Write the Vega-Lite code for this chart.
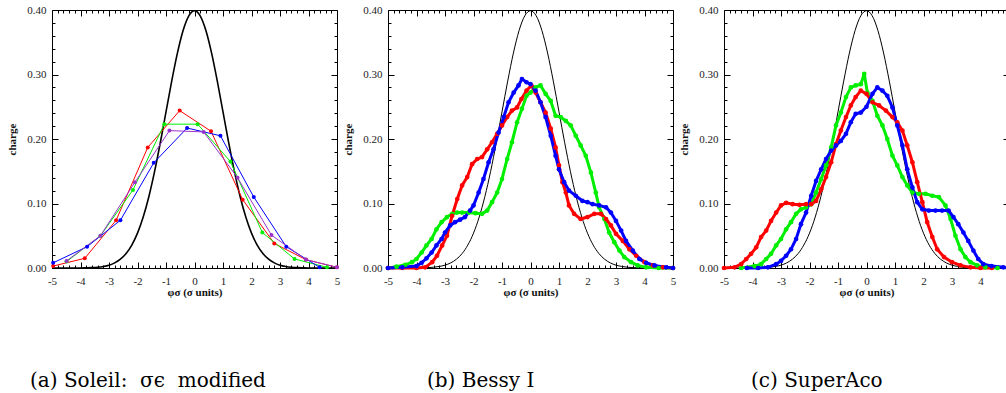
{
  "$schema": "https://vega.github.io/schema/vega-lite/v6.json",
  "padding": {"left": 6, "top": 4, "right": 0, "bottom": 0},
  "background": "white",
  "spacing": 51,
  "bounds": "flush",
  "datasets": {
    "gauss": [
      {"x":-5,"y":0},{"x":-4.8,"y":0},{"x":-4.6,"y":0},{"x":-4.4,"y":0},{"x":-4.2,"y":0.0001},{"x":-4,"y":0.0001},{"x":-3.8,"y":0.0003},{"x":-3.6,"y":0.0006},{"x":-3.4,"y":0.0012},{"x":-3.2,"y":0.0024},{"x":-3,"y":0.0044},{"x":-2.8,"y":0.0079},{"x":-2.6,"y":0.0136},{"x":-2.4,"y":0.0224},{"x":-2.2,"y":0.0355},{"x":-2,"y":0.054},{"x":-1.8,"y":0.079},{"x":-1.6,"y":0.1109},{"x":-1.4,"y":0.1497},{"x":-1.2,"y":0.1942},{"x":-1,"y":0.242},{"x":-0.8,"y":0.2897},{"x":-0.6,"y":0.3332},{"x":-0.4,"y":0.3683},{"x":-0.2,"y":0.391},{"x":0,"y":0.3989},
      {"x":0.2,"y":0.391},{"x":0.4,"y":0.3683},{"x":0.6,"y":0.3332},{"x":0.8,"y":0.2897},{"x":1,"y":0.242},{"x":1.2,"y":0.1942},{"x":1.4,"y":0.1497},{"x":1.6,"y":0.1109},{"x":1.8,"y":0.079},{"x":2,"y":0.054},{"x":2.2,"y":0.0355},{"x":2.4,"y":0.0224},{"x":2.6,"y":0.0136},{"x":2.8,"y":0.0079},{"x":3,"y":0.0044},{"x":3.2,"y":0.0024},{"x":3.4,"y":0.0012},{"x":3.6,"y":0.0006},{"x":3.8,"y":0.0003},{"x":4,"y":0.0001},{"x":4.2,"y":0.0001},{"x":4.4,"y":0},{"x":4.6,"y":0},{"x":4.8,"y":0},{"x":5,"y":0}
    ],
    "p1": [
      {"x":-4.96,"y":0.003,"s":"red"},{"x":-3.85,"y":0.015,"s":"red"},{"x":-2.75,"y":0.074,"s":"red"},{"x":-1.64,"y":0.187,"s":"red"},{"x":-0.52,"y":0.244,"s":"red"},{"x":0.58,"y":0.212,"s":"red"},{"x":1.69,"y":0.106,"s":"red"},{"x":2.8,"y":0.038,"s":"red"},{"x":3.91,"y":0.013,"s":"red"},{"x":5,"y":0.001,"s":"red"},
      {"x":-4.49,"y":0.01,"s":"green"},{"x":-3.3,"y":0.05,"s":"green"},{"x":-2.16,"y":0.121,"s":"green"},{"x":-1.06,"y":0.223,"s":"green"},{"x":0.11,"y":0.223,"s":"green"},{"x":1.26,"y":0.165,"s":"green"},{"x":2.38,"y":0.055,"s":"green"},{"x":3.51,"y":0.014,"s":"green"},{"x":4.65,"y":0.001,"s":"green"},
      {"x":-4.96,"y":0.008,"s":"blue"},{"x":-3.77,"y":0.033,"s":"blue"},{"x":-2.6,"y":0.074,"s":"blue"},{"x":-1.43,"y":0.163,"s":"blue"},{"x":-0.26,"y":0.217,"s":"blue"},{"x":0.91,"y":0.205,"s":"blue"},{"x":2.08,"y":0.11,"s":"blue"},{"x":3.22,"y":0.033,"s":"blue"},{"x":4.39,"y":0.001,"s":"blue"},
      {"x":-4.49,"y":0.011,"s":"purple"},{"x":-3.3,"y":0.05,"s":"purple"},{"x":-2.09,"y":0.133,"s":"purple"},{"x":-0.88,"y":0.213,"s":"purple"},{"x":0.32,"y":0.211,"s":"purple"},{"x":1.51,"y":0.14,"s":"purple"},{"x":2.7,"y":0.051,"s":"purple"},{"x":3.91,"y":0.013,"s":"purple"},{"x":5,"y":0.001,"s":"purple"}
    ],
    "p2": [
      {"x":-5,"y":0,"s":"green"},{"x":-4.7,"y":0.002,"s":"green"},{"x":-4.39,"y":0.005,"s":"green"},{"x":-4.16,"y":0.009,"s":"green"},{"x":-4,"y":0.014,"s":"green"},{"x":-3.82,"y":0.024,"s":"green"},{"x":-3.65,"y":0.035,"s":"green"},{"x":-3.47,"y":0.045,"s":"green"},{"x":-3.3,"y":0.06,"s":"green"},{"x":-3.12,"y":0.071,"s":"green"},{"x":-2.93,"y":0.079,"s":"green"},{"x":-2.75,"y":0.084,"s":"green"},{"x":-2.58,"y":0.086,"s":"green"},{"x":-2.4,"y":0.086,"s":"green"},{"x":-2.16,"y":0.086,"s":"green"},{"x":-1.93,"y":0.085,"s":"green"},{"x":-1.7,"y":0.084,"s":"green"},{"x":-1.52,"y":0.089,"s":"green"},{"x":-1.35,"y":0.102,"s":"green"},{"x":-1.17,"y":0.117,"s":"green"},{"x":-1,"y":0.138,"s":"green"},{"x":-0.82,"y":0.169,"s":"green"},{"x":-0.65,"y":0.195,"s":"green"},{"x":-0.47,"y":0.226,"s":"green"},{"x":-0.3,"y":0.247,"s":"green"},{"x":-0.14,"y":0.267,"s":"green"},{"x":0,"y":0.272,"s":"green"},{"x":0.18,"y":0.28,"s":"green"},{"x":0.35,"y":0.283,"s":"green"},{"x":0.53,"y":0.27,"s":"green"},{"x":0.71,"y":0.259,"s":"green"},{"x":0.88,"y":0.236,"s":"green"},{"x":1.06,"y":0.234,"s":"green"},{"x":1.24,"y":0.228,"s":"green"},{"x":1.41,"y":0.221,"s":"green"},{"x":1.59,"y":0.205,"s":"green"},{"x":1.76,"y":0.19,"s":"green"},{"x":1.94,"y":0.174,"s":"green"},{"x":2.12,"y":0.148,"s":"green"},{"x":2.29,"y":0.117,"s":"green"},{"x":2.41,"y":0.094,"s":"green"},{"x":2.59,"y":0.076,"s":"green"},{"x":2.76,"y":0.055,"s":"green"},{"x":2.94,"y":0.04,"s":"green"},{"x":3.12,"y":0.027,"s":"green"},{"x":3.29,"y":0.017,"s":"green"},{"x":3.53,"y":0.009,"s":"green"},{"x":3.76,"y":0.004,"s":"green"},{"x":4.06,"y":0.001,"s":"green"},{"x":4.5,"y":0,"s":"green"},{"x":5,"y":0,"s":"green"},
      {"x":-5,"y":0,"s":"red"},{"x":-4.5,"y":0,"s":"red"},{"x":-4,"y":0,"s":"red"},{"x":-3.7,"y":0.001,"s":"red"},{"x":-3.45,"y":0.009,"s":"red"},{"x":-3.28,"y":0.019,"s":"red"},{"x":-3.1,"y":0.035,"s":"red"},{"x":-2.93,"y":0.05,"s":"red"},{"x":-2.75,"y":0.081,"s":"red"},{"x":-2.57,"y":0.107,"s":"red"},{"x":-2.4,"y":0.128,"s":"red"},{"x":-2.22,"y":0.141,"s":"red"},{"x":-2.05,"y":0.161,"s":"red"},{"x":-1.87,"y":0.169,"s":"red"},{"x":-1.7,"y":0.172,"s":"red"},{"x":-1.52,"y":0.184,"s":"red"},{"x":-1.35,"y":0.195,"s":"red"},{"x":-1.17,"y":0.208,"s":"red"},{"x":-1,"y":0.221,"s":"red"},{"x":-0.82,"y":0.234,"s":"red"},{"x":-0.65,"y":0.244,"s":"red"},{"x":-0.47,"y":0.249,"s":"red"},{"x":-0.32,"y":0.262,"s":"red"},{"x":-0.14,"y":0.275,"s":"red"},{"x":0.03,"y":0.283,"s":"red"},{"x":0.18,"y":0.272,"s":"red"},{"x":0.35,"y":0.257,"s":"red"},{"x":0.53,"y":0.241,"s":"red"},{"x":0.71,"y":0.216,"s":"red"},{"x":0.88,"y":0.187,"s":"red"},{"x":1,"y":0.159,"s":"red"},{"x":1.12,"y":0.133,"s":"red"},{"x":1.24,"y":0.117,"s":"red"},{"x":1.35,"y":0.097,"s":"red"},{"x":1.53,"y":0.084,"s":"red"},{"x":1.76,"y":0.076,"s":"red"},{"x":2,"y":0.079,"s":"red"},{"x":2.24,"y":0.084,"s":"red"},{"x":2.47,"y":0.084,"s":"red"},{"x":2.65,"y":0.076,"s":"red"},{"x":2.82,"y":0.066,"s":"red"},{"x":3,"y":0.053,"s":"red"},{"x":3.24,"y":0.042,"s":"red"},{"x":3.47,"y":0.029,"s":"red"},{"x":3.71,"y":0.019,"s":"red"},{"x":4,"y":0.009,"s":"red"},{"x":4.3,"y":0.004,"s":"red"},{"x":4.65,"y":0.001,"s":"red"},{"x":5,"y":0,"s":"red"},
      {"x":-5,"y":0,"s":"blue"},{"x":-4.5,"y":0.001,"s":"blue"},{"x":-4,"y":0.003,"s":"blue"},{"x":-3.82,"y":0.008,"s":"blue"},{"x":-3.65,"y":0.015,"s":"blue"},{"x":-3.47,"y":0.024,"s":"blue"},{"x":-3.3,"y":0.035,"s":"blue"},{"x":-3.12,"y":0.045,"s":"blue"},{"x":-3,"y":0.055,"s":"blue"},{"x":-2.82,"y":0.066,"s":"blue"},{"x":-2.65,"y":0.071,"s":"blue"},{"x":-2.47,"y":0.075,"s":"blue"},{"x":-2.3,"y":0.079,"s":"blue"},{"x":-2.12,"y":0.089,"s":"blue"},{"x":-2,"y":0.097,"s":"blue"},{"x":-1.82,"y":0.117,"s":"blue"},{"x":-1.65,"y":0.138,"s":"blue"},{"x":-1.47,"y":0.164,"s":"blue"},{"x":-1.3,"y":0.184,"s":"blue"},{"x":-1.12,"y":0.21,"s":"blue"},{"x":-0.94,"y":0.234,"s":"blue"},{"x":-0.77,"y":0.257,"s":"blue"},{"x":-0.59,"y":0.272,"s":"blue"},{"x":-0.42,"y":0.283,"s":"blue"},{"x":-0.3,"y":0.293,"s":"blue"},{"x":-0.14,"y":0.288,"s":"blue"},{"x":0,"y":0.285,"s":"blue"},{"x":0.18,"y":0.275,"s":"blue"},{"x":0.35,"y":0.257,"s":"blue"},{"x":0.53,"y":0.234,"s":"blue"},{"x":0.71,"y":0.205,"s":"blue"},{"x":0.88,"y":0.174,"s":"blue"},{"x":1,"y":0.153,"s":"blue"},{"x":1.18,"y":0.133,"s":"blue"},{"x":1.35,"y":0.12,"s":"blue"},{"x":1.59,"y":0.112,"s":"blue"},{"x":1.82,"y":0.104,"s":"blue"},{"x":2,"y":0.102,"s":"blue"},{"x":2.18,"y":0.099,"s":"blue"},{"x":2.41,"y":0.097,"s":"blue"},{"x":2.65,"y":0.094,"s":"blue"},{"x":2.82,"y":0.086,"s":"blue"},{"x":3,"y":0.073,"s":"blue"},{"x":3.18,"y":0.058,"s":"blue"},{"x":3.35,"y":0.042,"s":"blue"},{"x":3.59,"y":0.027,"s":"blue"},{"x":3.82,"y":0.014,"s":"blue"},{"x":4.06,"y":0.008,"s":"blue"},{"x":4.35,"y":0.004,"s":"blue"},{"x":4.76,"y":0.001,"s":"blue"},{"x":5,"y":0,"s":"blue"}
    ],
    "p3": [
      {"x":-4.4,"y":0,"s":"green"},{"x":-3.93,"y":0.003,"s":"green"},{"x":-3.7,"y":0.006,"s":"green"},{"x":-3.52,"y":0.014,"s":"green"},{"x":-3.35,"y":0.022,"s":"green"},{"x":-3.17,"y":0.035,"s":"green"},{"x":-3,"y":0.045,"s":"green"},{"x":-2.82,"y":0.06,"s":"green"},{"x":-2.65,"y":0.071,"s":"green"},{"x":-2.47,"y":0.084,"s":"green"},{"x":-2.3,"y":0.091,"s":"green"},{"x":-2.12,"y":0.094,"s":"green"},{"x":-1.94,"y":0.099,"s":"green"},{"x":-1.77,"y":0.117,"s":"green"},{"x":-1.59,"y":0.138,"s":"green"},{"x":-1.42,"y":0.159,"s":"green"},{"x":-1.24,"y":0.187,"s":"green"},{"x":-1.07,"y":0.221,"s":"green"},{"x":-0.9,"y":0.241,"s":"green"},{"x":-0.72,"y":0.265,"s":"green"},{"x":-0.55,"y":0.28,"s":"green"},{"x":-0.38,"y":0.283,"s":"green"},{"x":-0.2,"y":0.285,"s":"green"},{"x":-0.08,"y":0.301,"s":"green"},{"x":0.03,"y":0.272,"s":"green"},{"x":0.21,"y":0.259,"s":"green"},{"x":0.38,"y":0.236,"s":"green"},{"x":0.56,"y":0.221,"s":"green"},{"x":0.73,"y":0.2,"s":"green"},{"x":0.91,"y":0.174,"s":"green"},{"x":1.08,"y":0.159,"s":"green"},{"x":1.26,"y":0.141,"s":"green"},{"x":1.43,"y":0.128,"s":"green"},{"x":1.61,"y":0.117,"s":"green"},{"x":1.84,"y":0.115,"s":"green"},{"x":2.07,"y":0.115,"s":"green"},{"x":2.31,"y":0.112,"s":"green"},{"x":2.54,"y":0.11,"s":"green"},{"x":2.77,"y":0.097,"s":"green"},{"x":2.95,"y":0.076,"s":"green"},{"x":3.12,"y":0.05,"s":"green"},{"x":3.3,"y":0.029,"s":"green"},{"x":3.47,"y":0.017,"s":"green"},{"x":3.65,"y":0.009,"s":"green"},{"x":3.88,"y":0.004,"s":"green"},{"x":4.17,"y":0.001,"s":"green"},{"x":4.6,"y":0,"s":"green"},
      {"x":-5,"y":0,"s":"red"},{"x":-4.63,"y":0.001,"s":"red"},{"x":-4.4,"y":0.006,"s":"red"},{"x":-4.22,"y":0.014,"s":"red"},{"x":-4.05,"y":0.022,"s":"red"},{"x":-3.87,"y":0.032,"s":"red"},{"x":-3.7,"y":0.048,"s":"red"},{"x":-3.52,"y":0.058,"s":"red"},{"x":-3.35,"y":0.073,"s":"red"},{"x":-3.17,"y":0.086,"s":"red"},{"x":-3,"y":0.097,"s":"red"},{"x":-2.82,"y":0.101,"s":"red"},{"x":-2.59,"y":0.099,"s":"red"},{"x":-2.35,"y":0.098,"s":"red"},{"x":-2.12,"y":0.099,"s":"red"},{"x":-1.94,"y":0.099,"s":"red"},{"x":-1.77,"y":0.104,"s":"red"},{"x":-1.59,"y":0.122,"s":"red"},{"x":-1.42,"y":0.141,"s":"red"},{"x":-1.24,"y":0.164,"s":"red"},{"x":-1.07,"y":0.192,"s":"red"},{"x":-0.9,"y":0.213,"s":"red"},{"x":-0.72,"y":0.234,"s":"red"},{"x":-0.55,"y":0.252,"s":"red"},{"x":-0.38,"y":0.265,"s":"red"},{"x":-0.2,"y":0.275,"s":"red"},{"x":0,"y":0.27,"s":"red"},{"x":0.21,"y":0.257,"s":"red"},{"x":0.44,"y":0.252,"s":"red"},{"x":0.68,"y":0.244,"s":"red"},{"x":0.91,"y":0.234,"s":"red"},{"x":1.08,"y":0.226,"s":"red"},{"x":1.26,"y":0.213,"s":"red"},{"x":1.43,"y":0.19,"s":"red"},{"x":1.61,"y":0.164,"s":"red"},{"x":1.78,"y":0.133,"s":"red"},{"x":1.96,"y":0.102,"s":"red"},{"x":2.13,"y":0.071,"s":"red"},{"x":2.31,"y":0.048,"s":"red"},{"x":2.48,"y":0.029,"s":"red"},{"x":2.72,"y":0.017,"s":"red"},{"x":3,"y":0.009,"s":"red"},{"x":3.3,"y":0.004,"s":"red"},{"x":3.65,"y":0.001,"s":"red"},{"x":4,"y":0,"s":"red"},{"x":4.4,"y":0,"s":"red"},
      {"x":-4.2,"y":0,"s":"blue"},{"x":-3.8,"y":0,"s":"blue"},{"x":-3.46,"y":0.001,"s":"blue"},{"x":-3.17,"y":0.006,"s":"blue"},{"x":-3,"y":0.011,"s":"blue"},{"x":-2.82,"y":0.019,"s":"blue"},{"x":-2.65,"y":0.029,"s":"blue"},{"x":-2.47,"y":0.045,"s":"blue"},{"x":-2.3,"y":0.068,"s":"blue"},{"x":-2.12,"y":0.086,"s":"blue"},{"x":-1.94,"y":0.112,"s":"blue"},{"x":-1.77,"y":0.135,"s":"blue"},{"x":-1.59,"y":0.153,"s":"blue"},{"x":-1.42,"y":0.169,"s":"blue"},{"x":-1.24,"y":0.182,"s":"blue"},{"x":-1.07,"y":0.19,"s":"blue"},{"x":-0.9,"y":0.197,"s":"blue"},{"x":-0.72,"y":0.208,"s":"blue"},{"x":-0.55,"y":0.226,"s":"blue"},{"x":-0.38,"y":0.239,"s":"blue"},{"x":-0.2,"y":0.241,"s":"blue"},{"x":0,"y":0.25,"s":"blue"},{"x":0.21,"y":0.27,"s":"blue"},{"x":0.38,"y":0.28,"s":"blue"},{"x":0.56,"y":0.275,"s":"blue"},{"x":0.73,"y":0.267,"s":"blue"},{"x":0.91,"y":0.249,"s":"blue"},{"x":1.08,"y":0.221,"s":"blue"},{"x":1.26,"y":0.19,"s":"blue"},{"x":1.43,"y":0.153,"s":"blue"},{"x":1.61,"y":0.125,"s":"blue"},{"x":1.78,"y":0.102,"s":"blue"},{"x":1.96,"y":0.091,"s":"blue"},{"x":2.19,"y":0.089,"s":"blue"},{"x":2.42,"y":0.089,"s":"blue"},{"x":2.65,"y":0.089,"s":"blue"},{"x":2.88,"y":0.089,"s":"blue"},{"x":3.05,"y":0.079,"s":"blue"},{"x":3.22,"y":0.068,"s":"blue"},{"x":3.4,"y":0.055,"s":"blue"},{"x":3.57,"y":0.042,"s":"blue"},{"x":3.75,"y":0.027,"s":"blue"},{"x":3.92,"y":0.014,"s":"blue"},{"x":4.1,"y":0.006,"s":"blue"},{"x":4.39,"y":0.003,"s":"blue"},{"x":4.8,"y":0.001,"s":"blue"},{"x":5,"y":0,"s":"blue"}
    ]
  },
  "hconcat": [
    {
      "width": 285, "height": 258,
      "title": {"text": "(a) Soleil:\u00a0\u00a0σϵ\u00a0\u00a0modified", "orient": "bottom", "anchor": "start", "frame": "group", "dx": -22, "offset": 74, "font": "DejaVu Serif", "fontSize": 20, "fontWeight": "normal", "color": "#000"},
      "layer": [
        {"data": {"name": "gauss"}, "mark": {"type": "line", "color": "#000", "strokeWidth": 1.6, "interpolate": "monotone"},
         "encoding": {
           "x": {"field": "x", "type": "quantitative", "scale": {"domain": [-5, 5], "nice": false}, "axis": {"orient": "bottom", "title": "φσ (σ units)", "titlePadding": -3, "values": [-5,-4.8,-4.6,-4.4,-4.2,-4,-3.8,-3.6,-3.4,-3.2,-3,-2.8,-2.6,-2.4,-2.2,-2,-1.8,-1.6,-1.4,-1.2,-1,-0.8,-0.6,-0.4,-0.2,0,0.2,0.4,0.6,0.8,1,1.2,1.4,1.6,1.8,2,2.2,2.4,2.6,2.8,3,3.2,3.4,3.6,3.8,4,4.2,4.4,4.6,4.8,5], "labelExpr": "abs(datum.value-round(datum.value))<0.01 ? ''+round(datum.value) : ''", "tickSize": {"condition": {"test": "abs(datum.value-round(datum.value))<0.01", "value": -6}, "value": -3}, "labelOverlap": false, "labelFlush": false, "labelPadding": 13}},
           "y": {"field": "y", "type": "quantitative", "scale": {"domain": [0, 0.4], "nice": false}, "axis": {"orient": "left", "title": "charge", "titlePadding": 9, "values": [0,0.02,0.04,0.06,0.08,0.1,0.12,0.14,0.16,0.18,0.2,0.22,0.24,0.26,0.28,0.3,0.32,0.34,0.36,0.38,0.4], "labelExpr": "abs(datum.value*10-round(datum.value*10))<0.01 ? format(datum.value,'.2f') : ''", "tickSize": {"condition": {"test": "abs(datum.value*10-round(datum.value*10))<0.01", "value": -6}, "value": -3}, "labelOverlap": false, "labelFlush": false, "labelPadding": 12}}
         }},
        {"data": {"name": "p1"}, "mark": {"type": "line", "strokeWidth": 1},
         "encoding": {
           "x": {"field": "x", "type": "quantitative", "axis": {"orient": "top", "title": null, "labels": false, "values": [-5,-4.8,-4.6,-4.4,-4.2,-4,-3.8,-3.6,-3.4,-3.2,-3,-2.8,-2.6,-2.4,-2.2,-2,-1.8,-1.6,-1.4,-1.2,-1,-0.8,-0.6,-0.4,-0.2,0,0.2,0.4,0.6,0.8,1,1.2,1.4,1.6,1.8,2,2.2,2.4,2.6,2.8,3,3.2,3.4,3.6,3.8,4,4.2,4.4,4.6,4.8,5], "tickSize": {"condition": {"test": "abs(datum.value-round(datum.value))<0.01", "value": -6}, "value": -3}}},
           "y": {"field": "y", "type": "quantitative", "axis": {"orient": "right", "title": null, "labels": false, "values": [0,0.02,0.04,0.06,0.08,0.1,0.12,0.14,0.16,0.18,0.2,0.22,0.24,0.26,0.28,0.3,0.32,0.34,0.36,0.38,0.4], "tickSize": {"condition": {"test": "abs(datum.value*10-round(datum.value*10))<0.01", "value": -6}, "value": -3}}},
           "color": {"field": "s", "type": "nominal", "scale": {"domain": ["red","green","blue","purple"], "range": ["#ff0000","#00ee00","#0000ff","#9933cc"]}, "legend": null}
         }},
        {"data": {"name": "p1"}, "mark": {"type": "point", "filled": true, "size": 16, "opacity": 1},
         "encoding": {
           "x": {"field": "x", "type": "quantitative", "axis": null},
           "y": {"field": "y", "type": "quantitative", "axis": null},
           "color": {"field": "s", "type": "nominal", "legend": null}
         }}
      ],
      "resolve": {"axis": {"x": "independent", "y": "independent"}}
    },
    {
      "width": 285, "height": 258,
      "title": {"text": "(b) Bessy I", "orient": "bottom", "anchor": "start", "frame": "group", "dx": 39, "offset": 74, "font": "DejaVu Serif", "fontSize": 20, "fontWeight": "normal", "color": "#000"},
      "layer": [
        {"data": {"name": "gauss"}, "mark": {"type": "line", "color": "#000", "strokeWidth": 1, "interpolate": "monotone"},
         "encoding": {
           "x": {"field": "x", "type": "quantitative", "scale": {"domain": [-5, 5], "nice": false}, "axis": {"orient": "bottom", "title": "φσ (σ units)", "titlePadding": -3, "values": [-5,-4.8,-4.6,-4.4,-4.2,-4,-3.8,-3.6,-3.4,-3.2,-3,-2.8,-2.6,-2.4,-2.2,-2,-1.8,-1.6,-1.4,-1.2,-1,-0.8,-0.6,-0.4,-0.2,0,0.2,0.4,0.6,0.8,1,1.2,1.4,1.6,1.8,2,2.2,2.4,2.6,2.8,3,3.2,3.4,3.6,3.8,4,4.2,4.4,4.6,4.8,5], "labelExpr": "abs(datum.value-round(datum.value))<0.01 ? ''+round(datum.value) : ''", "tickSize": {"condition": {"test": "abs(datum.value-round(datum.value))<0.01", "value": -6}, "value": -3}, "labelOverlap": false, "labelFlush": false, "labelPadding": 13}},
           "y": {"field": "y", "type": "quantitative", "scale": {"domain": [0, 0.4], "nice": false}, "axis": {"orient": "left", "title": "charge", "titlePadding": 9, "values": [0,0.02,0.04,0.06,0.08,0.1,0.12,0.14,0.16,0.18,0.2,0.22,0.24,0.26,0.28,0.3,0.32,0.34,0.36,0.38,0.4], "labelExpr": "abs(datum.value*10-round(datum.value*10))<0.01 ? format(datum.value,'.2f') : ''", "tickSize": {"condition": {"test": "abs(datum.value*10-round(datum.value*10))<0.01", "value": -6}, "value": -3}, "labelOverlap": false, "labelFlush": false, "labelPadding": 12}}
         }},
        {"data": {"name": "p2"}, "mark": {"type": "line", "strokeWidth": 3},
         "encoding": {
           "x": {"field": "x", "type": "quantitative", "axis": {"orient": "top", "title": null, "labels": false, "values": [-5,-4.8,-4.6,-4.4,-4.2,-4,-3.8,-3.6,-3.4,-3.2,-3,-2.8,-2.6,-2.4,-2.2,-2,-1.8,-1.6,-1.4,-1.2,-1,-0.8,-0.6,-0.4,-0.2,0,0.2,0.4,0.6,0.8,1,1.2,1.4,1.6,1.8,2,2.2,2.4,2.6,2.8,3,3.2,3.4,3.6,3.8,4,4.2,4.4,4.6,4.8,5], "tickSize": {"condition": {"test": "abs(datum.value-round(datum.value))<0.01", "value": -6}, "value": -3}}},
           "y": {"field": "y", "type": "quantitative", "axis": {"orient": "right", "title": null, "labels": false, "values": [0,0.02,0.04,0.06,0.08,0.1,0.12,0.14,0.16,0.18,0.2,0.22,0.24,0.26,0.28,0.3,0.32,0.34,0.36,0.38,0.4], "tickSize": {"condition": {"test": "abs(datum.value*10-round(datum.value*10))<0.01", "value": -6}, "value": -3}}},
           "color": {"field": "s", "type": "nominal", "scale": {"domain": ["green","red","blue"], "range": ["#00ee00","#ff0000","#0000ff"]}, "legend": null}
         }},
        {"data": {"name": "p2"}, "mark": {"type": "point", "filled": true, "size": 22, "opacity": 1},
         "encoding": {
           "x": {"field": "x", "type": "quantitative", "axis": null},
           "y": {"field": "y", "type": "quantitative", "axis": null},
           "color": {"field": "s", "type": "nominal", "legend": null}
         }}
      ],
      "resolve": {"axis": {"x": "independent", "y": "independent"}}
    },
    {
      "width": 285, "height": 258,
      "title": {"text": "(c) SuperAco", "orient": "bottom", "anchor": "start", "frame": "group", "dx": 27, "offset": 74, "font": "DejaVu Serif", "fontSize": 20, "fontWeight": "normal", "color": "#000"},
      "layer": [
        {"data": {"name": "gauss"}, "mark": {"type": "line", "color": "#000", "strokeWidth": 1, "interpolate": "monotone"},
         "encoding": {
           "x": {"field": "x", "type": "quantitative", "scale": {"domain": [-5, 5], "nice": false}, "axis": {"orient": "bottom", "title": "φσ (σ units)", "titlePadding": -3, "values": [-5,-4.8,-4.6,-4.4,-4.2,-4,-3.8,-3.6,-3.4,-3.2,-3,-2.8,-2.6,-2.4,-2.2,-2,-1.8,-1.6,-1.4,-1.2,-1,-0.8,-0.6,-0.4,-0.2,0,0.2,0.4,0.6,0.8,1,1.2,1.4,1.6,1.8,2,2.2,2.4,2.6,2.8,3,3.2,3.4,3.6,3.8,4,4.2,4.4,4.6,4.8,5], "labelExpr": "abs(datum.value-round(datum.value))<0.01 ? ''+round(datum.value) : ''", "tickSize": {"condition": {"test": "abs(datum.value-round(datum.value))<0.01", "value": -6}, "value": -3}, "labelOverlap": false, "labelFlush": false, "labelPadding": 13}},
           "y": {"field": "y", "type": "quantitative", "scale": {"domain": [0, 0.4], "nice": false}, "axis": {"orient": "left", "title": "charge", "titlePadding": 9, "values": [0,0.02,0.04,0.06,0.08,0.1,0.12,0.14,0.16,0.18,0.2,0.22,0.24,0.26,0.28,0.3,0.32,0.34,0.36,0.38,0.4], "labelExpr": "abs(datum.value*10-round(datum.value*10))<0.01 ? format(datum.value,'.2f') : ''", "tickSize": {"condition": {"test": "abs(datum.value*10-round(datum.value*10))<0.01", "value": -6}, "value": -3}, "labelOverlap": false, "labelFlush": false, "labelPadding": 12}}
         }},
        {"data": {"name": "p3"}, "mark": {"type": "line", "strokeWidth": 3},
         "encoding": {
           "x": {"field": "x", "type": "quantitative", "axis": {"orient": "top", "title": null, "labels": false, "values": [-5,-4.8,-4.6,-4.4,-4.2,-4,-3.8,-3.6,-3.4,-3.2,-3,-2.8,-2.6,-2.4,-2.2,-2,-1.8,-1.6,-1.4,-1.2,-1,-0.8,-0.6,-0.4,-0.2,0,0.2,0.4,0.6,0.8,1,1.2,1.4,1.6,1.8,2,2.2,2.4,2.6,2.8,3,3.2,3.4,3.6,3.8,4,4.2,4.4,4.6,4.8,5], "tickSize": {"condition": {"test": "abs(datum.value-round(datum.value))<0.01", "value": -6}, "value": -3}}},
           "y": {"field": "y", "type": "quantitative", "axis": {"orient": "right", "title": null, "labels": false, "values": [0,0.02,0.04,0.06,0.08,0.1,0.12,0.14,0.16,0.18,0.2,0.22,0.24,0.26,0.28,0.3,0.32,0.34,0.36,0.38,0.4], "tickSize": {"condition": {"test": "abs(datum.value*10-round(datum.value*10))<0.01", "value": -6}, "value": -3}}},
           "color": {"field": "s", "type": "nominal", "scale": {"domain": ["green","red","blue"], "range": ["#00ee00","#ff0000","#0000ff"]}, "legend": null}
         }},
        {"data": {"name": "p3"}, "mark": {"type": "point", "filled": true, "size": 22, "opacity": 1},
         "encoding": {
           "x": {"field": "x", "type": "quantitative", "axis": null},
           "y": {"field": "y", "type": "quantitative", "axis": null},
           "color": {"field": "s", "type": "nominal", "legend": null}
         }}
      ],
      "resolve": {"axis": {"x": "independent", "y": "independent"}}
    }
  ],
  "config": {
    "view": {"stroke": null},
    "font": "Liberation Serif",
    "axis": {"labelFont": "Liberation Serif", "labelFontSize": 11, "labelColor": "#222", "titleFont": "Liberation Serif", "titleFontSize": 11, "titleFontWeight": "bold", "titleColor": "#111", "domainColor": "#000", "tickColor": "#000", "grid": false, "domainWidth": 1, "tickWidth": 1}
  }
}
